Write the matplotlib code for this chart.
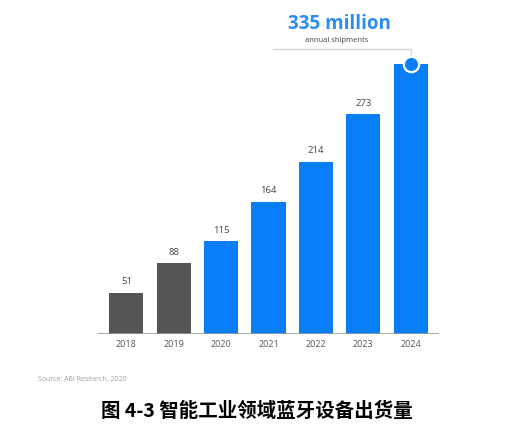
import matplotlib.pyplot as plt

plt.rcParams['font.family'] = ['Noto Sans CJK SC', 'DejaVu Sans']

years = ['2018', '2019', '2020', '2021', '2022', '2023', '2024']
shipments = [51, 88, 115, 164, 214, 273, 335]
bar_colors = ['#555555', '#555555', '#0a7ef6', '#0a7ef6', '#0a7ef6', '#0a7ef6', '#0a7ef6']

fig = plt.figure(figsize=(5.17, 4.30), dpi=100)
ax = fig.add_axes([98 / 517, 96 / 430, 341 / 517, 324 / 430])

x = range(len(years))
ax.bar(x, shipments, width=0.72, color=bar_colors, zorder=2)
ax.set_xlim(-0.6, 6.6)
ax.set_ylim(0, 402)

for xi, v in zip(x, shipments):
    if xi < len(years) - 1:
        ax.text(xi, v + 8, str(v), ha='center', va='bottom', fontsize=6.8,
                color='#444444', family='Open Sans')
    ax.text(xi, -7, years[xi], ha='center', va='top', fontsize=6.5,
            color='#555555', family='Open Sans', clip_on=False)

# baseline
ax.axhline(0, color='#9a9a9a', linewidth=1.2, zorder=3)

# callout for the last bar
last = len(years) - 1
ax.plot([3.1, last, last], [354, 354, shipments[-1] + 8], color='#dcd6cc',
        linewidth=1.0, clip_on=False, zorder=1)
ax.plot(last, shipments[-1], 'o', markersize=11, markerfacecolor='#0a7ef6',
        markeredgecolor='white', markeredgewidth=1.6, zorder=4, clip_on=False)
ax.text(4.5, 385, f'{shipments[-1]} million', ha='center', va='center', fontsize=13.5,
        fontweight='bold', color='#2b8cf3', family='Open Sans', clip_on=False)
ax.text(4.45, 364, 'annual shipments', ha='center', va='center', fontsize=5.5,
        color='#444444', family='Open Sans', clip_on=False)

ax.axis('off')

fig.text(38 / 517, 1 - 380 / 430, 'Source: ABI Research, 2020', ha='left', va='center',
         fontsize=5, color='#a0a0a0', family='Open Sans')
fig.text(257 / 517, 1 - 411 / 430, '图 4-3 智能工业领域蓝牙设备出货量', ha='center',
         va='center', fontsize=14, fontweight='bold', color='black')

fig.savefig('out.png', dpi=100)
